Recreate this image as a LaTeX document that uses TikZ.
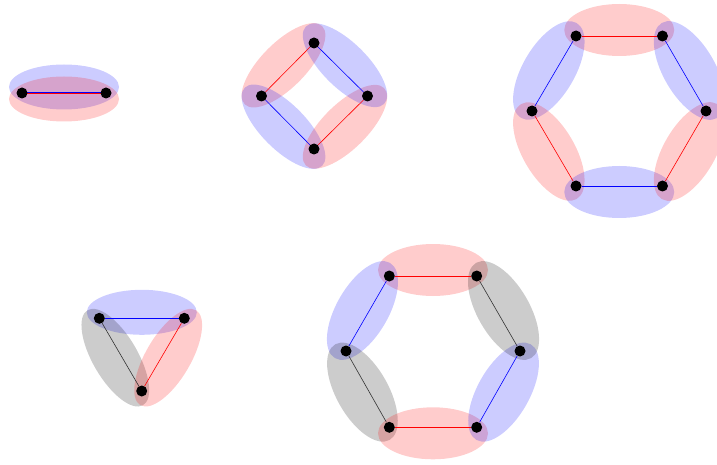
\documentclass[tikz,border=0pt]{standalone}
\usetikzlibrary{calc,shapes.geometric}
\pgfdeclarelayer{bg}
\pgfsetlayers{bg,main}
\tikzset{
  vtx/.style={circle, fill=black, minimum size=11pt, inner sep=0pt},
  hyper/.style={ellipse, fill opacity=0.2, draw=none, minimum width=110pt, inner sep=0pt},
  edg/.style={line width=0.6pt},
}
% #1 name, #2 A, #3 B, #4 colour, #5 height
\newcommand{\hedge}[5]{%
  \path let \p1=($(#3)-(#2)$), \n1={atan2(\y1,\x1)} in
    node[hyper, name=#1, fill=#4, minimum height=#5, rotate=\n1]
      at ($(#2.center)!0.5!(#3.center)!6pt!-90:(#3.center)$) {};%
}
\begin{document}
\begin{tikzpicture}[x=1pt,y=1pt]
\useasboundingbox (0,0) rectangle (717,464);
% ---------- figure 1 ----------
\node[vtx] (a1) at (22,371) {};
\node[vtx] (a2) at (106,371) {};
% ---------- figure 2 ----------
\node[vtx] (bT) at (314,421) {};
\node[vtx] (bL) at (261.5,368) {};
\node[vtx] (bR) at (367.5,368) {};
\node[vtx] (bB) at (314,315) {};
% ---------- figure 3 ----------
\node[vtx] (c1) at (576,428) {};
\node[vtx] (c2) at (662.5,428) {};
\node[vtx] (c3) at (706,353) {};
\node[vtx] (c4) at (662.5,278) {};
\node[vtx] (c5) at (576,278) {};
\node[vtx] (c6) at (532,353) {};
% ---------- figure 4 ----------
\node[vtx] (d1) at (99.3,145.7) {};
\node[vtx] (d2) at (184.3,145.7) {};
\node[vtx] (d3) at (141.7,73) {};
% ---------- figure 5 ----------
\node[vtx] (e1) at (389.3,188) {};
\node[vtx] (e2) at (476.7,188) {};
\node[vtx] (e3) at (520,113) {};
\node[vtx] (e4) at (476.7,36.7) {};
\node[vtx] (e5) at (389.3,36.7) {};
\node[vtx] (e6) at (346,113) {};

\begin{pgfonlayer}{bg}
% figure 1
\hedge{h1a}{a2}{a1}{blue}{45pt}
\hedge{h1b}{a1}{a2}{red}{45pt}
\draw[edg, blue] ([yshift=0.8pt]a1.center) -- ([yshift=0.8pt]a2.center);
\draw[edg, red] ([yshift=-0.8pt]a1.center) -- ([yshift=-0.8pt]a2.center);
% figure 2
\hedge{h2a}{bT}{bL}{red}{45pt}
\hedge{h2b}{bL}{bB}{blue}{45pt}
\hedge{h2c}{bB}{bR}{red}{45pt}
\hedge{h2d}{bR}{bT}{blue}{45pt}
\draw[edg, red] (bT) -- (bL);
\draw[edg, blue] (bL) -- (bB);
\draw[edg, red] (bB) -- (bR);
\draw[edg, blue] (bR) -- (bT);
% figure 3
\hedge{h3a}{c2}{c1}{red}{52pt}
\hedge{h3b}{c1}{c6}{blue}{52pt}
\hedge{h3c}{c6}{c5}{red}{52pt}
\hedge{h3d}{c5}{c4}{blue}{52pt}
\hedge{h3e}{c4}{c3}{red}{52pt}
\hedge{h3f}{c3}{c2}{blue}{52pt}
\draw[edg, red] (c2) -- (c1);
\draw[edg, blue] (c1) -- (c6);
\draw[edg, red] (c6) -- (c5);
\draw[edg, blue] (c5) -- (c4);
\draw[edg, red] (c4) -- (c3);
\draw[edg, blue] (c3) -- (c2);
% figure 4
\hedge{h4a}{d2}{d1}{blue}{45pt}
\hedge{h4b}{d1}{d3}{black}{45pt}
\hedge{h4c}{d3}{d2}{red}{45pt}
\draw[edg, blue] (d2) -- (d1);
\draw[edg, black!80] (d1) -- (d3);
\draw[edg, red] (d3) -- (d2);
% figure 5
\hedge{h5a}{e2}{e1}{red}{52pt}
\hedge{h5b}{e1}{e6}{blue}{52pt}
\hedge{h5c}{e6}{e5}{black}{52pt}
\hedge{h5d}{e5}{e4}{red}{52pt}
\hedge{h5e}{e4}{e3}{blue}{52pt}
\hedge{h5f}{e3}{e2}{black}{52pt}
\draw[edg, red] (e2) -- (e1);
\draw[edg, blue] (e1) -- (e6);
\draw[edg, black!80] (e6) -- (e5);
\draw[edg, red] (e5) -- (e4);
\draw[edg, blue] (e4) -- (e3);
\draw[edg, black!80] (e3) -- (e2);
\end{pgfonlayer}
\end{tikzpicture}
\end{document}
